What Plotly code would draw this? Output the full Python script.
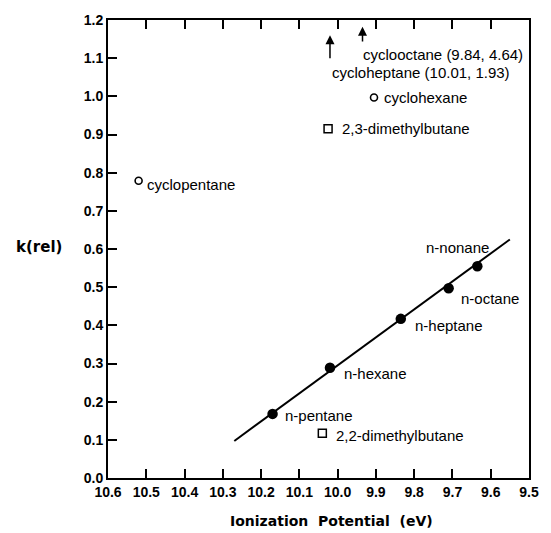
import plotly.graph_objects as go

# ---- data ----
n_names = ["n-pentane", "n-hexane", "n-heptane", "n-octane", "n-nonane"]
n_ip = [10.17, 10.02, 9.835, 9.71, 9.635]
n_k = [0.168, 0.289, 0.417, 0.497, 0.555]

cyc_names = ["cyclopentane", "cyclohexane"]
cyc_ip = [10.52, 9.905]
cyc_k = [0.779, 0.997]

br_names = ["2,3-dimethylbutane", "2,2-dimethylbutane"]
br_ip = [10.025, 10.04]
br_k = [0.915, 0.117]

fit_ip = [10.27, 9.55]
fit_k = [0.097, 0.625]

# off-scale points, indicated by arrows
off_names = ["cyclooctane (9.84, 4.64)", "cycloheptane (10.01, 1.93)"]
off_arrow_x = [9.935, 10.02]
off_arrow_base = [1.140, 1.096]
off_arrow_tip = [1.182, 1.160]
off_label_x = [9.94, 10.02]
off_label_y = [1.110, 1.063]

x_ticks = [10.6, 10.5, 10.4, 10.3, 10.2, 10.1, 10.0, 9.9, 9.8, 9.7, 9.6, 9.5]
y_ticks = [0.0, 0.1, 0.2, 0.3, 0.4, 0.5, 0.6, 0.7, 0.8, 0.9, 1.0, 1.1, 1.2]

FONT = "Liberation Sans"
LBL = dict(family=FONT, size=15, color="black")

fig = go.Figure()
fig.add_trace(go.Scatter(x=fit_ip, y=fit_k, mode="lines",
                         line=dict(color="black", width=2), showlegend=False))
fig.add_trace(go.Scatter(x=n_ip, y=n_k, mode="markers",
                         marker=dict(symbol="circle", size=10.5, color="black"),
                         showlegend=False))
fig.add_trace(go.Scatter(x=cyc_ip, y=cyc_k, mode="markers",
                         marker=dict(symbol="circle-open", size=7, color="black",
                                     line=dict(width=1.6)),
                         showlegend=False))
fig.add_trace(go.Scatter(x=br_ip, y=br_k, mode="markers",
                         marker=dict(symbol="square-open", size=8, color="black",
                                     line=dict(width=1.5)),
                         showlegend=False))

# label offsets (pixels) for each labelled point
n_off = [(10, -2), (12, -6), (12, -7), (10, -10), (14, 19)]
n_anchor = ["left", "left", "left", "left", "right"]
for name, x, y, (dx, dy), anc in zip(n_names, n_ip, n_k, n_off, n_anchor):
    fig.add_annotation(x=x, y=y, text=name, showarrow=False, xanchor=anc,
                       xshift=dx, yshift=dy, font=LBL)
cyc_off = [(6, -4), (8, 0)]
for name, x, y, (dx, dy) in zip(cyc_names, cyc_ip, cyc_k, cyc_off):
    fig.add_annotation(x=x, y=y, text=name, showarrow=False, xanchor="left",
                       xshift=dx, yshift=dy, font=LBL)
br_off = [(12, 0), (12, -2)]
for name, x, y, (dx, dy) in zip(br_names, br_ip, br_k, br_off):
    fig.add_annotation(x=x, y=y, text=name, showarrow=False, xanchor="left",
                       xshift=dx, yshift=dy, font=LBL)

# arrows for off-scale points
for ax_, base, tip in zip(off_arrow_x, off_arrow_base, off_arrow_tip):
    fig.add_annotation(x=ax_, y=tip, ax=ax_, ay=base, axref="x", ayref="y",
                       xref="x", yref="y", text="", showarrow=True,
                       arrowhead=2, arrowsize=1.2, arrowwidth=1.5,
                       arrowcolor="black")
for name, lx, ly in zip(off_names, off_label_x, off_label_y):
    fig.add_annotation(x=lx, y=ly, text=name, showarrow=False,
                       xanchor="left", font=LBL)

# axis titles
fig.add_annotation(x=-0.165, y=0.606, xref="paper", yref="y", text="<b>k(rel)</b>",
                   showarrow=False, xanchor="center", yanchor="middle",
                   font=dict(family="DejaVu Sans", size=15, color="black"))
fig.add_annotation(x=0.53, y=-0.093, xref="paper", yref="paper",
                   text="<b>Ionization  Potential  (eV)</b>", showarrow=False,
                   xanchor="center", yanchor="middle",
                   font=dict(family="DejaVu Sans", size=14, color="black"))

fig.update_layout(
    width=551, height=533,
    margin=dict(l=108, r=14, t=15, b=55),
    plot_bgcolor="white", paper_bgcolor="white",
    xaxis=dict(range=[10.6, 9.5], tickvals=x_ticks,
               ticktext=[f"{v:.1f}" for v in x_ticks],
               ticks="inside", ticklen=9, tickwidth=1.5, tickcolor="black",
               showline=True, linecolor="black", linewidth=2, mirror="ticks",
               showgrid=False, zeroline=False,
               tickfont=dict(family=FONT, size=14, color="black", weight="bold")),
    yaxis=dict(range=[0, 1.2], tickvals=y_ticks,
               ticktext=[f"{v:.1f}" for v in y_ticks],
               ticks="inside", ticklen=9, tickwidth=1.5, tickcolor="black",
               showline=True, linecolor="black", linewidth=2, mirror=True,
               showgrid=False, zeroline=False,
               tickfont=dict(family=FONT, size=14, color="black", weight="bold")),
)

fig.write_html("out.html", config={"displayModeBar": False},
               post_script="document.body.style.margin='0';")
